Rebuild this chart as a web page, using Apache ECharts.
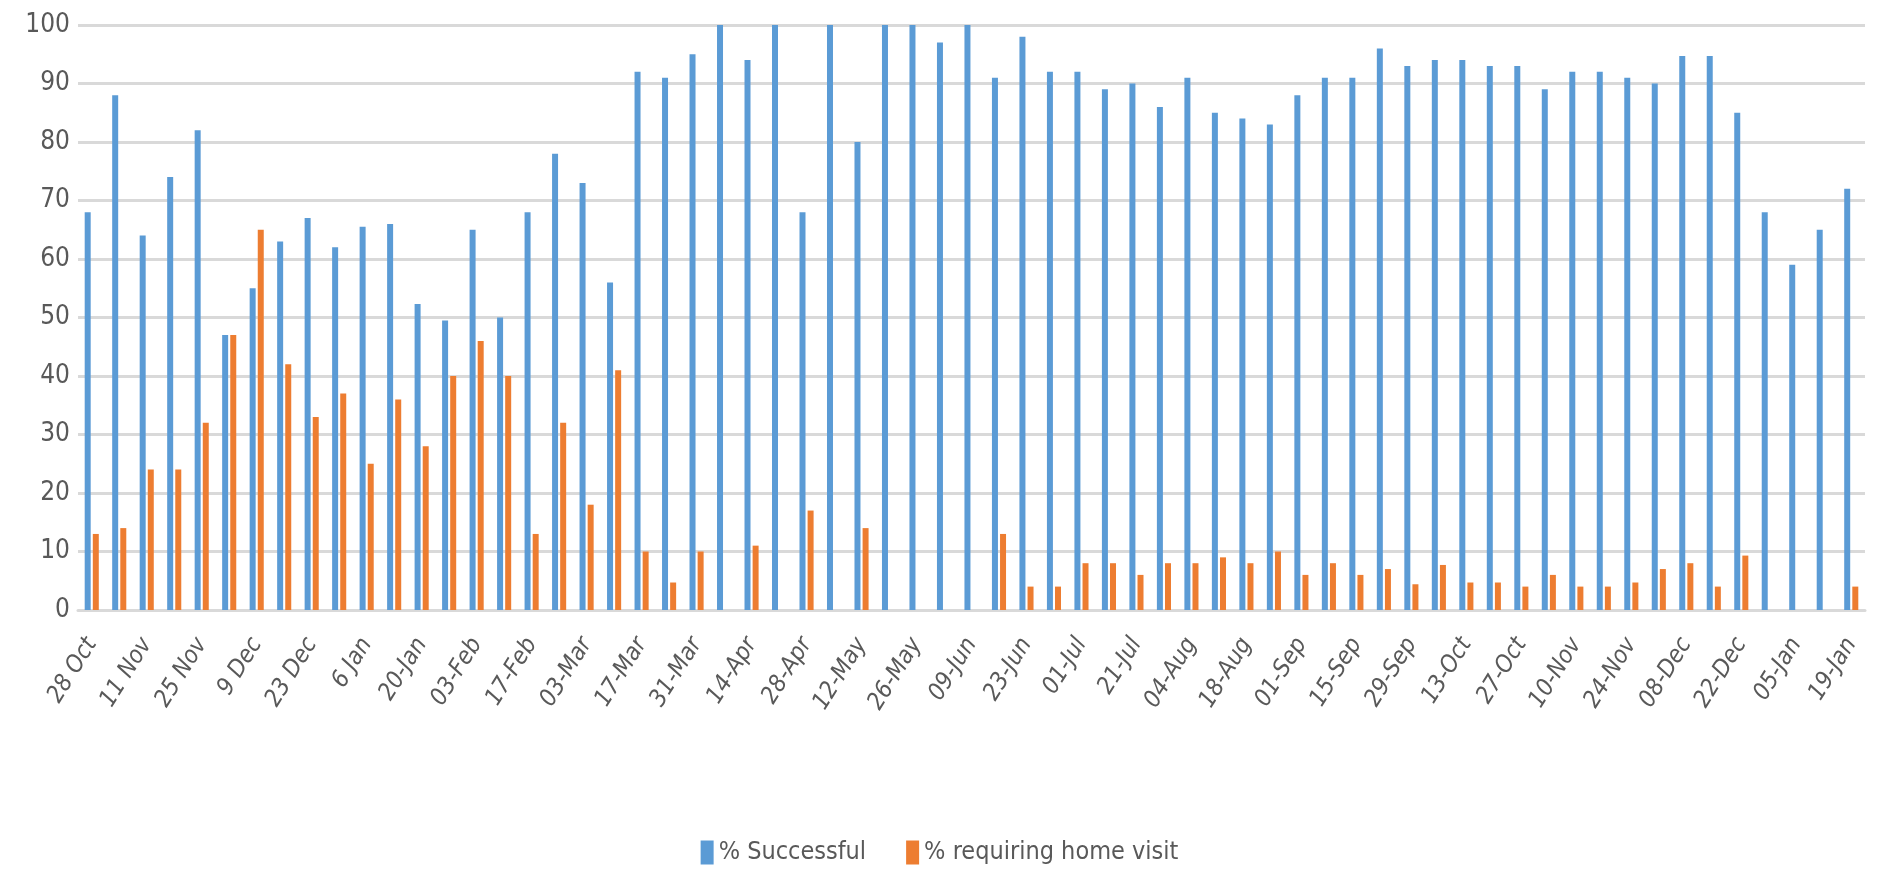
<!DOCTYPE html>
<html>
<head>
<meta charset="utf-8">
<script src="https://cdn.jsdelivr.net/npm/echarts@6/dist/echarts.min.js"></script>
<style>
  html, body { margin: 0; padding: 0; background: #fff; }
  #chart { width: 1879px; height: 874px; }
</style>
</head>
<body>
<div id="chart"></div>
<script>
// weekly dates, only every other one is labelled on the axis
const weeks = [
  '28 Oct', '4 Nov', '11 Nov', '18 Nov', '25 Nov', '2 Dec', '9 Dec', '16 Dec', '23 Dec', '30 Dec',
  '6 Jan', '13 Jan', '20-Jan', '27-Jan', '03-Feb', '10-Feb', '17-Feb', '24-Feb', '03-Mar', '10-Mar',
  '17-Mar', '24-Mar', '31-Mar', '07-Apr', '14-Apr', '21-Apr', '28-Apr', '05-May', '12-May', '19-May',
  '26-May', '02-Jun', '09-Jun', '16-Jun', '23-Jun', '27-Jun', '01-Jul', '14-Jul', '21-Jul', '28-Jul',
  '04-Aug', '11-Aug', '18-Aug', '25-Aug', '01-Sep', '08-Sep', '15-Sep', '22-Sep', '29-Sep', '06-Oct',
  '13-Oct', '20-Oct', '27-Oct', '03-Nov', '10-Nov', '17-Nov', '24-Nov', '01-Dec', '08-Dec', '15-Dec',
  '22-Dec', '29-Dec', '05-Jan', '12-Jan', '19-Jan'
];

const successful = [
  68, 88, 64, 74, 82, 47, 55, 63, 67, 62,
  65.5, 66, 52.3, 49.5, 65, 50, 68, 78, 73, 56,
  92, 91, 95, 100, 94, 100, 68, 100, 80, 100,
  100, 97, 100, 91, 98, 92, 92, 89, 90, 86,
  91, 85, 84, 83, 88, 91, 91, 96, 93, 94,
  94, 93, 93, 89, 92, 92, 91, 90, 94.7, 94.7,
  85, 68, 59, 65, 72
];

const homeVisit = [
  13, 14, 24, 24, 32, 47, 65, 42, 33, 37,
  25, 36, 28, 40, 46, 40, 13, 32, 18, 41,
  10, 4.7, 10, 0, 11, 0, 17, 0, 14, 0,
  0, 0, 0, 13, 4, 4, 8, 8, 6, 8,
  8, 9, 8, 10, 6, 8, 6, 7, 4.4, 7.7,
  4.7, 4.7, 4, 6, 4, 4, 4.7, 7, 8, 4,
  9.3, 0, 0, 0, 4
];

const seriesNames = ['% Successful', '% requiring home visit'];
const yTicks = { min: 0, max: 100, interval: 10 };

const font = '"Liberation Sans Narrow", "DejaVu Sans Condensed", "Open Sans", sans-serif';
const gridLine = '#d9d9d9';
const textGrey = '#595959';

const chart = echarts.init(document.getElementById('chart'));

chart.setOption({
  animation: false,
  color: ['#5b9bd5', '#ed7d31'],
  textStyle: { fontFamily: font },
  grid: { left: 78, right: 14, top: 25, bottom: 264 },
  legend: {
    bottom: 4,
    left: 'center',
    itemWidth: 13,
    itemHeight: 24,
    itemGap: 40,
    icon: 'rect',
    textStyle: { fontSize: 25, color: textGrey, fontFamily: font }
  },
  xAxis: {
    type: 'category',
    data: weeks,
    axisLine: { lineStyle: { color: gridLine, width: 3 } },
    axisTick: { show: false },
    axisLabel: {
      interval: 1,
      rotate: 58,
      margin: 30,
      fontSize: 24,
      fontStyle: 'italic',
      color: textGrey,
      fontFamily: font
    }
  },
  yAxis: {
    type: 'value',
    min: yTicks.min,
    max: yTicks.max,
    interval: yTicks.interval,
    axisLine: { show: false },
    axisTick: { show: false },
    axisLabel: { fontSize: 26, color: textGrey, margin: 8, fontFamily: font },
    splitLine: { lineStyle: { color: gridLine, width: 3 } }
  },
  series: [
    { name: seriesNames[0], type: 'bar', data: successful, barWidth: 6, barGap: '35%' },
    { name: seriesNames[1], type: 'bar', data: homeVisit, barWidth: 6, barGap: '35%' }
  ]
});
</script>
</body>
</html>
